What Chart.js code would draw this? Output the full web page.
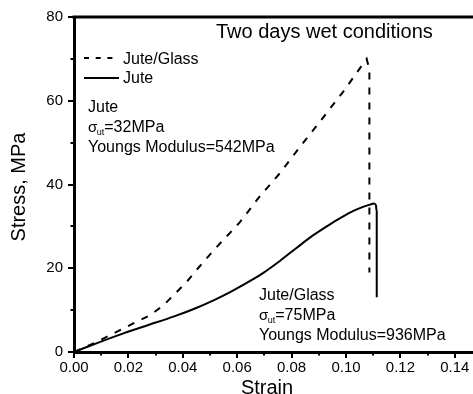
<!DOCTYPE html>
<html>
<head>
<meta charset="utf-8">
<script src="https://cdn.jsdelivr.net/npm/chart.js@4/dist/chart.umd.min.js"></script>
<style>
html,body{margin:0;padding:0;overflow:hidden;background:#fff;}
#wrap{width:490px;height:394px;}
</style>
</head>
<body>
<div id="wrap"><canvas id="c" width="490" height="394"></canvas></div>
<script>
// ---- data ----
const glassStrain = [0, 0.0074, 0.022, 0.028, 0.033, 0.0415, 0.046, 0.0515, 0.061, 0.0635, 0.0677, 0.0757, 0.0831, 0.0904, 0.099, 0.1076, 0.1086, 0.1086];
const glassStress = [0, 2.1, 6.9, 8.8, 11.2, 16.8, 20.3, 24.4, 31.0, 33.1, 36.7, 42.7, 49.0, 55.0, 62.2, 70.0, 67.5, 19.0];
const juteStrain = [0, 0.0092, 0.0184, 0.0276, 0.0368, 0.0445, 0.0515, 0.0574, 0.0662, 0.0696, 0.0758, 0.0819, 0.088, 0.0941, 0.0985, 0.1027, 0.106, 0.1088, 0.1103, 0.1110, 0.1113, 0.1113];
const juteStress = [0, 2.3, 4.5, 6.5, 8.5, 10.4, 12.4, 14.3, 17.5, 18.9, 21.8, 24.9, 27.9, 30.5, 32.2, 33.7, 34.6, 35.2, 35.45, 35.0, 33.5, 13.1];
const xTicks = [0, 0.02, 0.04, 0.06, 0.08, 0.10, 0.12, 0.14];
const yTicks = [0, 20, 40, 60, 80];
const xMinor = [0.01, 0.03, 0.05, 0.07, 0.09, 0.11, 0.13];
const yMinor = [10, 30, 50, 70];
const seriesNames = ['Jute/Glass', 'Jute'];
const chartTitle = 'Two days wet conditions';
const xTitle = 'Strain';
const yTitle = 'Stress, MPa';
const juteNote = ['Jute', '=32MPa', 'Youngs Modulus=542MPa'];
const glassNote = ['Jute/Glass', '=75MPa', 'Youngs Modulus=936MPa'];

const FONT = '"Liberation Sans", Arial, Helvetica, sans-serif';

function toPts(xs, ys){ return xs.map((x,i)=>({x:x, y:ys[i]})); }

const extras = {
  id: 'extras',
  afterDraw(chart){
    const ctx = chart.ctx;
    const ca = chart.chartArea;
    const xs = chart.scales.x, ys = chart.scales.y;
    ctx.save();
    // top frame line
    ctx.strokeStyle = '#000';
    ctx.lineWidth = 3;
    ctx.beginPath();
    ctx.moveTo(ca.left - 1.5, ca.top);
    ctx.lineTo(ca.right, ca.top);
    ctx.stroke();
    // minor ticks
    ctx.lineWidth = 2;
    ctx.beginPath();
    xMinor.forEach(v=>{
      const px = Math.round(xs.getPixelForValue(v));
      ctx.moveTo(px, ca.bottom); ctx.lineTo(px, ca.bottom + 3.5);
    });
    yMinor.forEach(v=>{
      const py = Math.round(ys.getPixelForValue(v));
      ctx.moveTo(ca.left, py); ctx.lineTo(ca.left - 3.5, py);
    });
    ctx.stroke();

    ctx.fillStyle = '#000';
    ctx.textBaseline = 'alphabetic';
    ctx.textAlign = 'left';
    // title
    ctx.font = '20px ' + FONT;
    ctx.fillText(chartTitle, ca.left + 142, ca.top + 21);
    // axis titles
    ctx.textAlign = 'center';
    ctx.fillText(xTitle, ca.left + 193, ca.bottom + 42);
    ctx.save();
    ctx.translate(25, 187);
    ctx.rotate(-Math.PI/2);
    ctx.fillText(yTitle, 0, 0);
    ctx.restore();

    // legend
    ctx.textAlign = 'left';
    ctx.font = '16px ' + FONT;
    ctx.lineWidth = 2;
    ctx.setLineDash([5, 6.7]);
    ctx.beginPath();
    ctx.moveTo(ca.left + 10, ca.top + 41);
    ctx.lineTo(ca.left + 45, ca.top + 41);
    ctx.stroke();
    ctx.setLineDash([]);
    ctx.beginPath();
    ctx.moveTo(ca.left + 10, ca.top + 61);
    ctx.lineTo(ca.left + 45, ca.top + 61);
    ctx.stroke();
    ctx.fillText(seriesNames[0], ca.left + 49, ca.top + 47);
    ctx.fillText(seriesNames[1], ca.left + 49, ca.top + 66);

    // annotations
    function note(lines, x, y){
      ctx.font = '16px ' + FONT;
      ctx.fillText(lines[0], x, y);
      ctx.font = '15px ' + FONT;
      ctx.fillText('\u03C3', x, y + 20);
      let w = ctx.measureText('\u03C3').width;
      ctx.font = '9px ' + FONT;
      ctx.fillText('ut', x + w - 0.5, y + 23);
      let w2 = ctx.measureText('ut').width;
      ctx.font = '16px ' + FONT;
      ctx.fillText(lines[1], x + w + w2 - 0.5, y + 20);
      ctx.fillText(lines[2], x, y + 40);
    }
    note(juteNote, ca.left + 14, ca.top + 95);
    note(glassNote, ca.left + 185, ca.top + 283);
    ctx.restore();
  }
};

new Chart(document.getElementById('c'), {
  type: 'scatter',
  data: {
    datasets: [
      { label: seriesNames[0], data: toPts(glassStrain, glassStress), showLine: true,
        borderColor: '#000', borderWidth: 2, borderDash: [7, 8], pointRadius: 0, tension: 0, fill: false },
      { label: seriesNames[1], data: toPts(juteStrain, juteStress), showLine: true,
        borderColor: '#000', borderWidth: 2, pointRadius: 0, cubicInterpolationMode: 'monotone', fill: false }
    ]
  },
  options: {
    responsive: false,
    animation: false,
    devicePixelRatio: 1,
    layout: { padding: { left: 0, right: 8, top: 17, bottom: 0 }, autoPadding: false },
    plugins: { legend: { display: false }, tooltip: { enabled: false }, title: { display: false } },
    scales: {
      x: {
        type: 'linear', min: 0, max: 0.15,
        afterBuildTicks: s => { s.ticks = xTicks.map(v => ({ value: v })); },
        afterFit: s => { s.height = 42; },
        grid: { drawOnChartArea: false, drawTicks: true, tickLength: 6, lineWidth: 2, color: '#000' },
        border: { display: true, width: 3, color: '#000' },
        ticks: { color: '#000', font: { family: FONT, size: 15 }, padding: 1, maxRotation: 0,
          callback: v => v.toFixed(2) }
      },
      y: {
        type: 'linear', min: 0, max: 80,
        afterBuildTicks: s => { s.ticks = yTicks.map(v => ({ value: v })); },
        afterFit: s => { s.width = 74; },
        grid: { drawOnChartArea: false, drawTicks: true, tickLength: 6, lineWidth: 2, color: '#000' },
        border: { display: true, width: 3, color: '#000' },
        ticks: { color: '#000', font: { family: FONT, size: 15 }, padding: 5,
          callback: v => String(v) }
      }
    }
  },
  plugins: [extras]
});
</script>
</body>
</html>
